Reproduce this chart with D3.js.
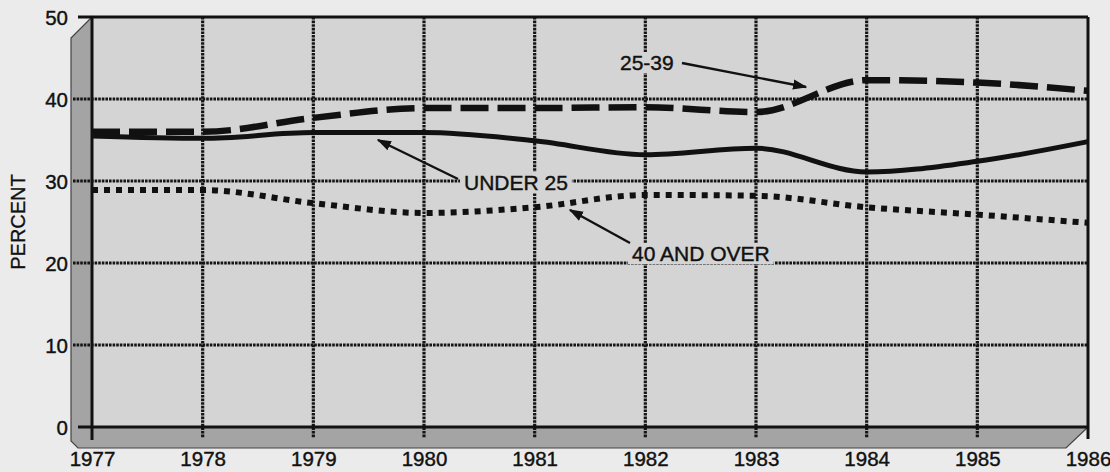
<!DOCTYPE html>
<html><head><meta charset="utf-8">
<script src="https://cdn.jsdelivr.net/npm/d3@7"></script>
<style>html,body{margin:0;padding:0;background:#ececec;}svg{display:block;}</style>
</head><body>
<script>
const years = [1977,1978,1979,1980,1981,1982,1983,1984,1985,1986];
const age25to39 = [36.0,36.0,37.7,38.9,38.9,39.0,38.4,42.3,42.0,41.0];
const under25 = [35.5,35.2,35.9,35.9,34.9,33.2,34.0,31.1,32.4,34.8];
const over40 = [28.9,28.9,27.3,26.1,26.8,28.3,28.2,26.8,25.9,24.9];
const yTicks = [0,10,20,30,40,50];
const xTickLabels = ["1977","1978","1979","1980","1981","1982","1983","1984","1985","1986"];

const W=1110,H=472;
const svg=d3.select("body").append("svg").attr("width",W).attr("height",H);
svg.append("rect").attr("width",W).attr("height",H).attr("fill","#ebebeb");
const x=d3.scaleLinear().domain([1977,1986]).range([92,1088]);
const y=d3.scaleLinear().domain([0,50]).range([427,17]);
const font="'Liberation Sans', Arial, sans-serif";
const wall="#d4d4d4";

// back wall
svg.append("rect").attr("x",x(1977)).attr("y",y(50)).attr("width",x(1986)-x(1977)).attr("height",y(0)-y(50)).attr("fill",wall);
// left wall + floor
const side=[[71,38],[x(1977),y(50)],[x(1977),y(0)],[x(1986),y(0)],[x(1986)-22,y(0)+21],[78,y(0)+21],[71,y(0)+14]];
svg.append("path").attr("d","M"+side.map(p=>p.join(",")).join("L")+"Z").attr("fill","#a4a4a4").attr("stroke","#444").attr("stroke-width",1.2);

// gridlines
const grid=svg.append("g").attr("stroke","#151515").attr("stroke-width",3.2).attr("stroke-dasharray","2.6,1");
yTicks.filter(t=>t>0&&t<50).forEach(t=>{
  grid.append("line").attr("x1",73).attr("x2",x(1986)).attr("y1",y(t)).attr("y2",y(t));
});
years.slice(1,-1).forEach(yr=>{
  grid.append("line").attr("x1",x(yr)).attr("x2",x(yr)).attr("y1",y(50)).attr("y2",y(0)+11);
});
// borders
const b=svg.append("g").attr("stroke","#111").attr("stroke-width",3).attr("fill","none");
b.append("line").attr("x1",78).attr("x2",x(1986)).attr("y1",y(50)).attr("y2",y(50));
b.append("line").attr("x1",78).attr("x2",x(1986)).attr("y1",y(0)).attr("y2",y(0));
b.append("line").attr("x1",x(1977)).attr("x2",x(1977)).attr("y1",y(50)).attr("y2",y(0)+13);
b.append("line").attr("x1",x(1986)).attr("x2",x(1986)).attr("y1",y(50)).attr("y2",y(0)+12);

// axis labels
const yAxis=d3.axisLeft(y).tickValues(yTicks).tickSize(0).tickPadding(0);
const ya=svg.append("g").attr("transform","translate(68,1)").call(yAxis);
ya.select(".domain").remove();
ya.selectAll("text").attr("font-family",font).attr("font-size",20.5).attr("fill","#111").attr("stroke","#111").attr("stroke-width",0.4);
const xAxis=d3.axisBottom(x).tickValues(years).tickFormat((d,i)=>xTickLabels[i]).tickSize(0).tickPadding(0);
const xa=svg.append("g").attr("transform","translate(0,451)").call(xAxis);
xa.select(".domain").remove();
xa.selectAll("text").attr("font-family",font).attr("font-size",20.5).attr("fill","#111").attr("stroke","#111").attr("stroke-width",0.4);

svg.append("text").attr("transform","translate(25,222) rotate(-90)").attr("text-anchor","middle")
  .attr("font-family",font).attr("font-size",20).attr("fill","#111").attr("stroke","#111").attr("stroke-width",0.3).text("PERCENT");

// lines
const line=d3.line().x((d,i)=>x(years[i])).y(d=>y(d)).curve(d3.curveMonotoneX);
svg.append("path").datum(over40).attr("d",line).attr("fill","none").attr("stroke","#111").attr("stroke-width",6).attr("stroke-dasharray","6,6");
svg.append("path").datum(under25).attr("d",line).attr("fill","none").attr("stroke","#111").attr("stroke-width",5);
svg.append("path").datum(age25to39).attr("d",line).attr("fill","none").attr("stroke","#111").attr("stroke-width",6.5).attr("stroke-dasharray","28,9");

// annotations
svg.append("defs").append("marker").attr("id","ah").attr("viewBox","0 0 10 10").attr("refX",9).attr("refY",5)
  .attr("markerWidth",6).attr("markerHeight",6).attr("markerUnits","strokeWidth").attr("orient","auto")
  .append("path").attr("d","M0,1.5L10,5L0,8.5Z").attr("fill","#111");
const ann=[
  {t:"25-39",tx:620,ty:70,x1:682,y1:63,x2:806,y2:87},
  {t:"UNDER 25",tx:464,ty:190,x1:458,y1:179,x2:378,y2:140},
  {t:"40 AND OVER",tx:632,ty:261,x1:630,y1:243,x2:570,y2:210}
];
ann.forEach(a=>{
  const g=svg.append("g");
  const txt=g.append("text").attr("x",a.tx).attr("y",a.ty).attr("font-family",font).attr("font-size",21)
    .attr("fill","#111").attr("stroke","#111").attr("stroke-width",0.4).text(a.t);
  const bb=txt.node().getBBox();
  g.insert("rect","text").attr("x",bb.x-4).attr("y",bb.y+1).attr("width",bb.width+8).attr("height",bb.height-2).attr("fill",wall);
  svg.append("line").attr("x1",a.x1).attr("y1",a.y1).attr("x2",a.x2).attr("y2",a.y2)
    .attr("stroke","#111").attr("stroke-width",2.4).attr("marker-end","url(#ah)");
});
</script>
</body></html>
